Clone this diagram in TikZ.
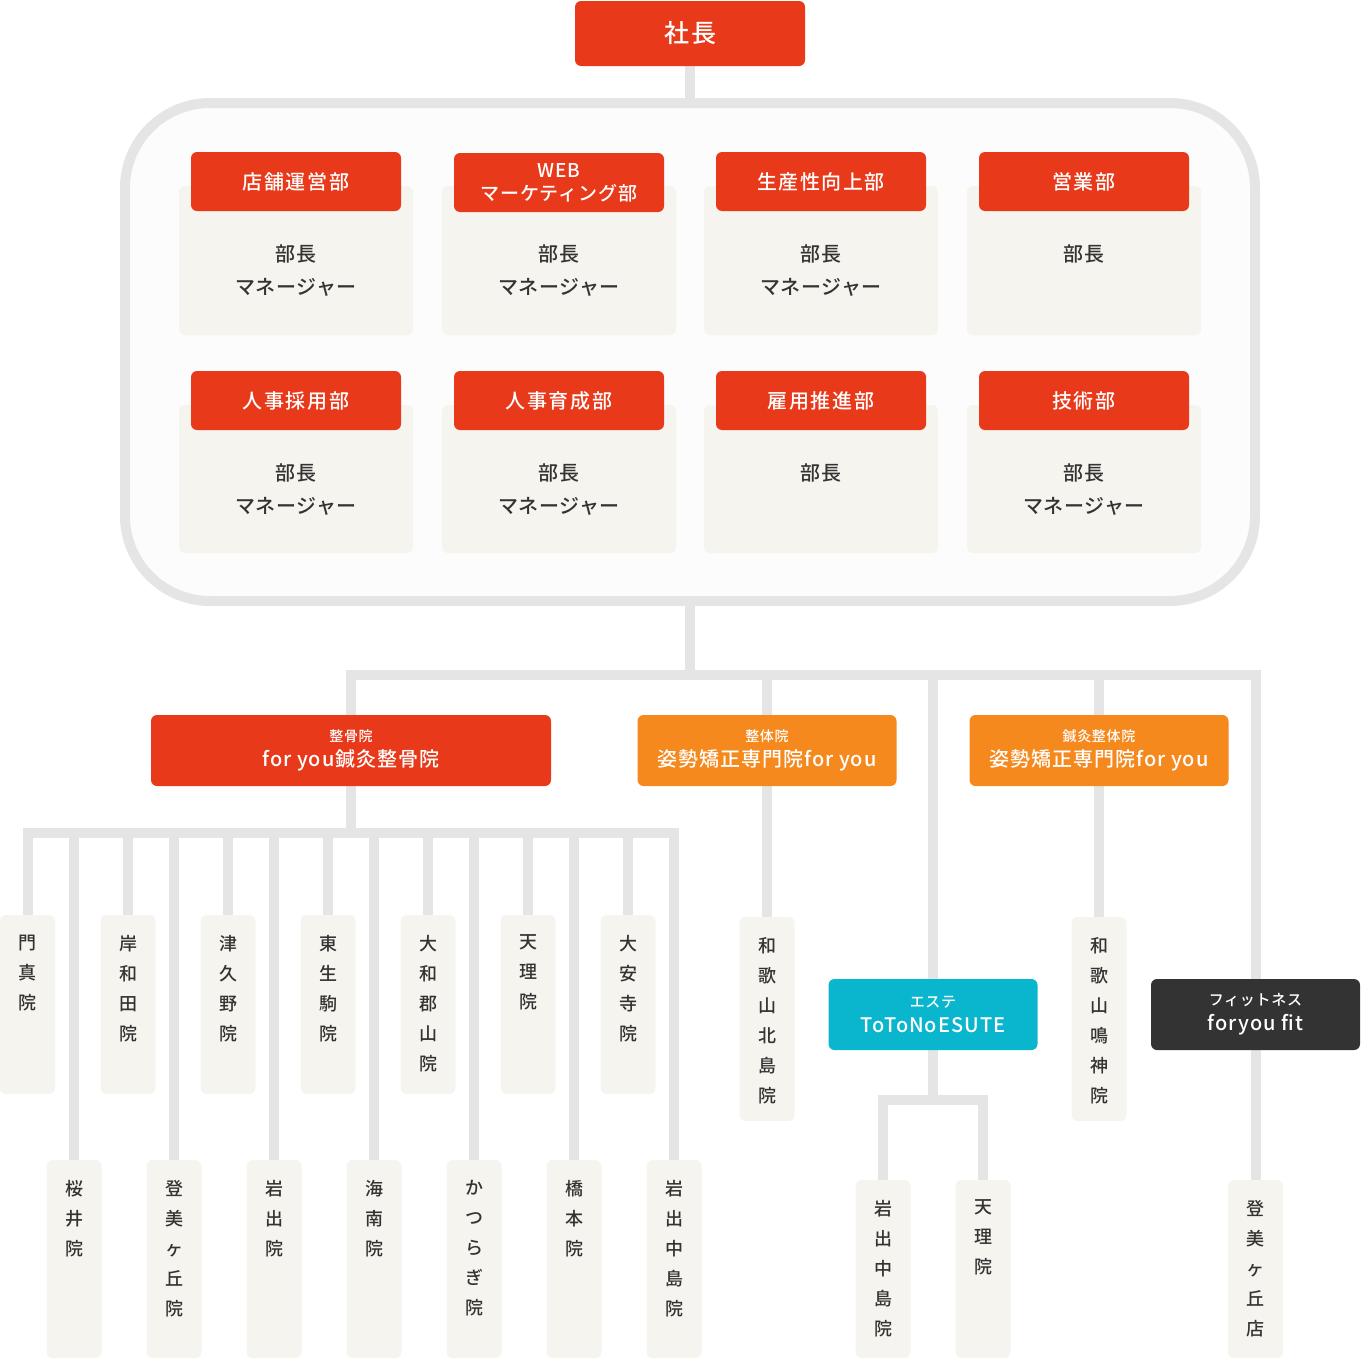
\documentclass[tikz,border=0pt]{standalone}
\usepackage{fontspec}
\setmainfont{Noto Sans CJK JP}[BoldFont={Noto Sans CJK JP Medium}]
\usepackage{xcolor}
\usepackage{tikz}
\usetikzlibrary{positioning,backgrounds}

\definecolor{bossred}{HTML}{E8391A}
\definecolor{clinicorange}{HTML}{F5891E}
\definecolor{esthecyan}{HTML}{0AB6CD}
\definecolor{fitdark}{HTML}{333333}
\definecolor{cardbeige}{HTML}{F6F4EE}
\definecolor{linegray}{HTML}{E5E5E5}
\definecolor{framefill}{HTML}{FCFCFC}
\definecolor{textgray}{HTML}{333333}

\begin{document}
\begin{tikzpicture}[x=1pt, y=-1pt,
        conn/.style={draw=linegray, line width=10pt},
        headbox/.style={fill=#1, rounded corners=6pt, text=white, align=center, inner sep=0pt},
        tab/.style={headbox=bossred, minimum width=210, minimum height=59, font=\fontsize{20}{23}\selectfont\bfseries\addfontfeature{LetterSpace=8}},
        card/.style={fill=cardbeige, rounded corners=6pt, minimum width=234, inner sep=0pt},
        staff/.style={anchor=north, yshift=-59pt, align=center, inner sep=0pt, text=textgray, font=\fontsize{20}{33}\selectfont\bfseries\addfontfeature{LetterSpace=3}},
        branch/.style={headbox=#1, minimum height=71, font=\fontsize{20}{25}\selectfont\bfseries\addfontfeature{LetterSpace=5}},
        tile/.style={fill=cardbeige, rounded corners=6pt, minimum width=55, inner sep=0pt},
        tate/.style={anchor=north, yshift=-20pt, align=center, inner sep=0pt, text=textgray, font=\fontsize{18}{30}\selectfont\bfseries}]
    \useasboundingbox (0,0) rectangle (1361,1360);

    \node[headbox=bossred, minimum width=230, minimum height=65, font=\fontsize{25}{28}\selectfont\bfseries\addfontfeature{LetterSpace=8}] (president) at (690,33.5) {社長};

    \node[draw=linegray, line width=10pt, fill=framefill, rounded corners=85pt, minimum width=1130, minimum height=498, inner sep=0pt] (org) at (690,352) {};

    % first row
    \node[card, minimum height=149, label={[staff]north:部長\\マネージャー}] (store) at (296,260.5) {};
    \node[tab] (storetab) at (296,181.5) {店舗運営部};
    \node[card, minimum height=149, label={[staff]north:部長\\マネージャー}] (web) at (559,260.5) {};
    \node[tab, font=\fontsize{19}{23}\selectfont\bfseries\addfontfeature{LetterSpace=5}] (webtab) at (559,182.5) {WEB\\マーケティング部};
    \node[card, minimum height=149, label={[staff]north:部長\\マネージャー}] (product) at (821,260.5) {};
    \node[tab] (producttab) at (821,181.5) {生産性向上部};
    \node[card, minimum height=149, label={[staff]north:部長}] (sales) at (1084,260.5) {};
    \node[tab] (salestab) at (1084,181.5) {営業部};

    % second row
    \node[card, minimum height=148, label={[staff]north:部長\\マネージャー}] (recruit) at (296,479) {};
    \node[tab] (recruittab) at (296,400.5) {人事採用部};
    \node[card, minimum height=148, label={[staff]north:部長\\マネージャー}] (training) at (559,479) {};
    \node[tab] (trainingtab) at (559,400.5) {人事育成部};
    \node[card, minimum height=148, label={[staff]north:部長}] (employ) at (821,479) {};
    \node[tab] (employtab) at (821,400.5) {雇用推進部};
    \node[card, minimum height=148, label={[staff]north:部長\\マネージャー}] (tech) at (1084,479) {};
    \node[tab] (techtab) at (1084,400.5) {技術部};

    % branches
    \node[branch=bossred, minimum width=400] (seikotsu) at (351,750.5) {{\fontsize{14}{16}\selectfont 整骨院}\\for you鍼灸整骨院};
    \node[branch=clinicorange, minimum width=259] (seitai) at (767,750.5) {{\fontsize{14}{16}\selectfont 整体院}\\姿勢矯正専門院for you};
    \node[branch=clinicorange, minimum width=259] (shinkyu) at (1099,750.5) {{\fontsize{14}{16}\selectfont 鍼灸整体院}\\姿勢矯正専門院for you};
    \node[branch=esthecyan, minimum width=209] (esthe) at (933,1014.5) {{\fontsize{15}{16}\selectfont エステ}\\ToToNoESUTE};
    \node[branch=fitdark, minimum width=209] (fitness) at (1255.5,1014.5) {{\fontsize{15}{16}\selectfont フィットネス}\\foryou fit};

    % for you鍼灸整骨院
    \node[tile, minimum height=179, label={[tate]north:門\\真\\院}] (kadoma) at (27.5,1004.5) {};
    \node[tile, minimum height=198, label={[tate]north:桜\\井\\院}] (sakurai) at (74,1259) {};
    \node[tile, minimum height=179, label={[tate]north:岸\\和\\田\\院}] (kishiwada) at (128,1004.5) {};
    \node[tile, minimum height=198, label={[tate]north:登\\美\\ヶ\\丘\\院}] (tomigaoka) at (174,1259) {};
    \node[tile, minimum height=179, label={[tate]north:津\\久\\野\\院}] (tsukuno) at (228,1004.5) {};
    \node[tile, minimum height=198, label={[tate]north:岩\\出\\院}] (iwade) at (274,1259) {};
    \node[tile, minimum height=179, label={[tate]north:東\\生\\駒\\院}] (higashiikoma) at (328,1004.5) {};
    \node[tile, minimum height=198, label={[tate]north:海\\南\\院}] (kainan) at (374,1259) {};
    \node[tile, minimum height=179, label={[tate]north:大\\和\\郡\\山\\院}] (koriyama) at (428,1004.5) {};
    \node[tile, minimum height=198, label={[tate]north:か\\つ\\ら\\ぎ\\院}] (katsuragi) at (474,1259) {};
    \node[tile, minimum height=179, label={[tate]north:天\\理\\院}] (tenri) at (528,1004.5) {};
    \node[tile, minimum height=198, label={[tate]north:橋\\本\\院}] (hashimoto) at (574,1259) {};
    \node[tile, minimum height=179, label={[tate]north:大\\安\\寺\\院}] (daianji) at (628,1004.5) {};
    \node[tile, minimum height=198, label={[tate]north:岩\\出\\中\\島\\院}] (iwadenaka) at (674,1259) {};

    % 姿勢矯正専門院for you
    \node[tile, minimum height=204, label={[tate]north:和\\歌\\山\\北\\島\\院}] (kitajima) at (767,1019) {};
    \node[tile, minimum height=204, label={[tate]north:和\\歌\\山\\鳴\\神\\院}] (narukami) at (1099,1019) {};

    % ToToNoESUTE / foryou fit
    \node[tile, minimum height=178, label={[tate]north:岩\\出\\中\\島\\院}] (esthenaka) at (883,1269) {};
    \node[tile, minimum height=178, label={[tate]north:天\\理\\院}] (esthetenri) at (983,1269) {};
    \node[tile, minimum height=178, label={[tate]north:登\\美\\ヶ\\丘\\店}] (fittomi) at (1255.5,1269) {};

    \coordinate (topbar) at (690,675);
    \coordinate (seikotsubar) at (351,833);
    \coordinate (esthebar) at (933,1100);

    \begin{scope}[on background layer]
        \draw[conn] (president) -- (org);
        \draw[conn] (org) -- (topbar);
        \draw[conn] (seikotsu) |- (topbar) -| (fitness);
        \draw[conn] (seitai) -- (seitai |- topbar);
        \draw[conn] (shinkyu) -- (shinkyu |- topbar);
        \draw[conn] (esthe) -- (esthe |- topbar);

        % 整骨院
        \draw[conn] (seikotsu) -- (seikotsubar);
        \draw[conn] (kadoma) |- (seikotsubar) -| (iwadenaka);
        \foreach \clinic in {sakurai,kishiwada,tomigaoka,tsukuno,iwade,higashiikoma,kainan,koriyama,katsuragi,tenri,hashimoto,daianji}
            \draw[conn] (\clinic) -- (\clinic |- seikotsubar);

        \draw[conn] (seitai) -- (kitajima);
        \draw[conn] (shinkyu) -- (narukami);

        % エステ
        \draw[conn] (esthe) -- (esthebar);
        \draw[conn] (esthenaka) |- (esthebar) -| (esthetenri);

        \draw[conn] (fitness) -- (fittomi);
    \end{scope}
\end{tikzpicture}
\end{document}
